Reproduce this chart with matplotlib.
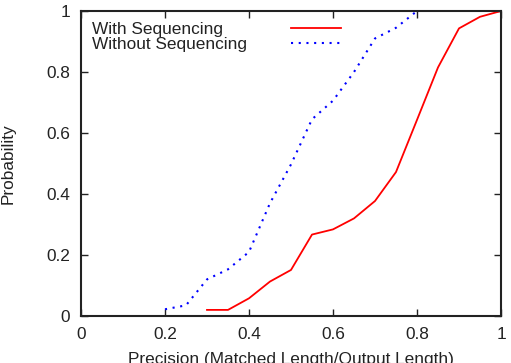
import matplotlib
matplotlib.use("Agg")
import matplotlib.pyplot as plt

plt.rcParams['font.family'] = ['Liberation Sans', 'DejaVu Sans']

x_with = [0.30, 0.35, 0.40, 0.45, 0.50, 0.55, 0.60, 0.65, 0.70, 0.75, 0.80, 0.85, 0.90, 0.95, 1.00]
y_with = [0.02, 0.02, 0.058, 0.113, 0.151, 0.267, 0.284, 0.32, 0.377, 0.472, 0.643, 0.815, 0.943, 0.981, 1.00]

x_without = [0.20, 0.25, 0.30, 0.35, 0.40, 0.45, 0.50, 0.55, 0.60, 0.65, 0.70, 0.75, 0.80]
y_without = [0.022, 0.035, 0.12, 0.153, 0.21, 0.37, 0.497, 0.645, 0.706, 0.80, 0.91, 0.945, 1.00]

xticks = [0, 0.2, 0.4, 0.6, 0.8, 1]
xticklabels = ['0', '0.2', '0.4', '0.6', '0.8', '1']
yticks = [0, 0.2, 0.4, 0.6, 0.8, 1]
yticklabels = ['0', '0.2', '0.4', '0.6', '0.8', '1']

FS = 12.4
TXT = '#222222'

fig = plt.figure(figsize=(5.11, 3.63), dpi=100)
ax = fig.add_axes([81/511, 47/363, 420/511, 305/363])

ax.plot(x_with, y_with, color='#ff0000', lw=1.3, label='With Sequencing')
ax.plot(x_without, y_without, color='#0000ff', lw=1.5, linestyle=(0, (1, 2.7)),
        label='Without Sequencing')

ax.set_xlim(0, 1)
ax.set_ylim(0, 1)
ax.set_xticks(xticks)
ax.set_xticklabels(xticklabels)
ax.set_yticks(yticks)
ax.set_yticklabels(yticklabels)
ax.tick_params(direction='in', length=5, width=1, top=True, right=True,
               labelsize=FS, colors=TXT)
ax.tick_params(axis='y', pad=8)
ax.tick_params(axis='x', pad=8)
for s in ax.spines.values():
    s.set_linewidth(1.5)
    s.set_color(TXT)

ax.set_xlabel('Precision (Matched Length/Output Length)', fontsize=FS, labelpad=7, color=TXT)
ax.set_ylabel('Probability', fontsize=FS, labelpad=22, color=TXT)

leg = ax.legend(loc='upper left', markerfirst=False, frameon=False, fontsize=FS,
                handlelength=2.9, handletextpad=2.56, labelspacing=0.03,
                borderaxespad=0, borderpad=0, bbox_to_anchor=(0.026, 0.965))
for t in leg.get_texts():
    t.set_color(TXT)

# left-align legend texts while keeping sample lines aligned
fig.canvas.draw()
r = fig.canvas.get_renderer()
widths = [t.get_window_extent(r).width for t in leg.get_texts()]
maxw = max(widths)
col = leg._legend_handle_box.get_children()[0]
col.align = 'left'
for item, w in zip(col.get_children(), widths):
    item.sep += (maxw - w) * 72.0 / fig.dpi

fig.savefig('out.png', dpi=100)
